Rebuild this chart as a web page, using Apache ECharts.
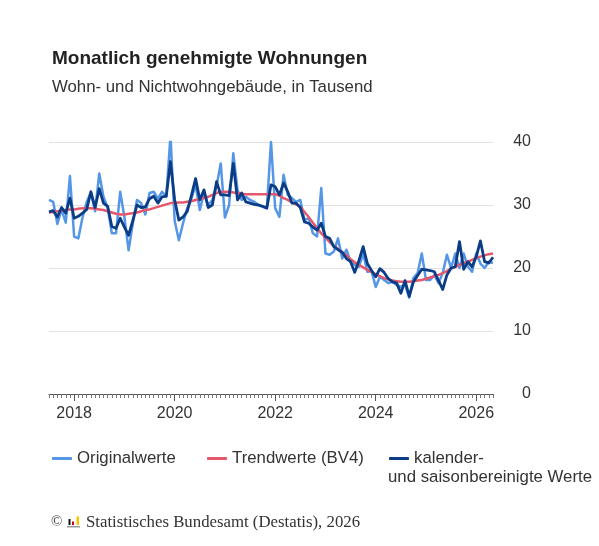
<!DOCTYPE html>
<html>
<head>
<meta charset="utf-8">
<script src="https://cdn.jsdelivr.net/npm/echarts@6/dist/echarts.min.js"></script>
<style>
  html, body { margin: 0; padding: 0; background: #fff; }
  #chart { width: 599px; height: 546px; }
</style>
</head>
<body>
<div id="chart"></div>
<script>
  // Monate Jul 2017 .. Mai 2026
  var months = []
  for (var y = 2017; y <= 2026; y++) {
    for (var m = 1; m <= 12; m++) {
      if (y === 2017 && m < 7) continue
      if (y === 2026 && m > 5) continue
      months.push(y + '-' + (m < 10 ? '0' + m : m))
    }
  }
  var yearLabels = ['2018', '2020', '2022', '2024', '2026']
  var yTicks = [0, 10, 20, 30, 40]

  // Originalwerte, in Tausend
  var originalwerte = [
    30.8, 30.5, 27.0, 29.3, 27.2, 34.6, 25.0, 24.7, 28.0, 30.5,
    32.0, 29.0, 35.0, 31.3, 29.6, 25.5, 25.5, 32.1, 28.1, 22.8,
    27.0, 30.8, 30.3, 28.5, 31.9, 32.1, 31.0, 32.1, 31.3, 41.0,
    27.5, 24.4, 27.1, 29.5, 31.0, 33.2, 29.2, 31.9, 30.0, 30.8,
    33.0, 36.6, 28.0, 30.0, 38.2, 32.4, 30.8, 31.3, 30.8, 30.5,
    30.0, 29.7, 29.5, 40.0, 29.5, 28.1, 34.8, 31.6, 31.1, 30.5,
    30.8, 27.6, 27.9, 25.5, 25.0, 32.7, 22.3, 22.1, 22.6, 24.7,
    21.5, 22.9, 21.0, 20.5, 20.2, 22.3, 19.4, 19.5, 17.0, 18.6,
    18.1, 17.6, 17.8, 17.3, 17.0, 17.3, 15.3, 18.4, 19.2, 22.3,
    18.1, 18.1, 18.9, 17.6, 19.2, 22.1, 20.0, 22.3, 20.0, 22.3,
    20.2, 19.4, 22.3, 20.7, 20.0, 21.0, 20.8
  ]
  // Trendwerte (BV4)
  var trendwerte = [
    28.8, 28.9, 29.0, 29.1, 29.2, 29.3, 29.3, 29.4, 29.5, 29.5,
    29.5, 29.4, 29.3, 29.2, 29.0, 28.8, 28.6, 28.5, 28.5, 28.6,
    28.7, 28.8, 29.0, 29.2, 29.3, 29.5, 29.7, 29.9, 30.1, 30.3,
    30.3, 30.4, 30.4, 30.5, 30.6, 30.8, 31.0, 31.1, 31.3, 31.6,
    31.9, 32.1, 32.1, 32.1, 32.0, 31.9, 31.8, 31.7, 31.7, 31.7,
    31.7, 31.7, 31.7, 31.7, 31.7, 31.5, 31.1, 30.8, 30.4, 30.1,
    29.7, 28.9, 28.1, 27.2, 26.3, 25.5, 24.8, 24.1, 23.5, 23.0,
    22.5, 22.0, 21.4, 20.9, 20.5, 20.1, 19.7, 19.4, 19.0, 18.7,
    18.4, 18.2, 18.0, 17.9, 17.8, 17.8, 17.8, 17.9, 18.0, 18.1,
    18.3, 18.5, 18.7, 18.9, 19.2, 19.5, 19.9, 20.2, 20.5, 20.8,
    21.0, 21.3, 21.6, 21.8, 22.0, 22.2, 22.3
  ]
  // kalender- und saisonbereinigte Werte
  var bereinigt = [
    28.9, 29.1, 28.1, 29.6, 28.7, 31.1, 27.9, 28.2, 28.7, 29.3,
    32.1, 29.6, 32.6, 30.3, 29.8, 26.6, 26.3, 27.9, 26.5, 25.2,
    27.5, 30.0, 29.6, 29.7, 31.0, 31.4, 30.3, 31.3, 31.4, 36.9,
    30.8, 27.6, 28.1, 29.0, 31.5, 34.2, 30.8, 32.4, 29.6, 30.0,
    33.7, 31.6, 31.6, 31.5, 36.6, 30.8, 31.9, 30.5, 30.3, 30.1,
    30.0, 29.8, 29.5, 33.2, 32.9, 31.6, 33.5, 32.1, 30.3, 30.3,
    29.6, 27.3, 27.1, 26.5, 26.0, 27.1, 25.0, 24.7, 23.4, 22.9,
    22.5, 21.5, 21.0, 19.3, 21.2, 23.4, 20.7, 19.6, 18.6, 19.9,
    19.3, 18.3, 17.8, 17.6, 16.0, 18.0, 15.5, 17.8, 18.8, 19.8,
    19.7, 19.6, 19.4, 18.0, 16.6, 18.9, 20.0, 20.2, 24.2, 19.8,
    21.0, 20.2, 21.8, 24.3, 21.0, 20.8, 21.7
  ]

  var colors = {
    original: '#5596e6',
    trend: '#e5576b',
    bereinigt: '#0b3d87'
  }
  var textColor = '#333'
  var font = 'Liberation Sans, Arial, sans-serif'

  var isYearTick = function (index, value) {
    return value.slice(5) === '01' && yearLabels.indexOf(value.slice(0, 4)) > -1
  }

  var legendBase = {
    top: 450,
    padding: 0,
    itemWidth: 20,
    itemHeight: 3,
    icon: 'roundRect',
    selectedMode: false,
    textStyle: { color: textColor, fontSize: 16.8, fontFamily: font }
  }

  var option = {
    animation: false,
    backgroundColor: '#fff',
    title: {
      text: 'Monatlich genehmigte Wohnungen',
      subtext: 'Wohn- und Nichtwohngebäude, in Tausend',
      left: 47,
      top: 44,
      itemGap: 11,
      textStyle: { color: '#222', fontSize: 19, fontWeight: 'bold', fontFamily: font },
      subtextStyle: { color: textColor, fontSize: 16.8, fontFamily: font }
    },
    legend: [
      Object.assign({}, legendBase, { left: 52, data: ['Originalwerte'] }),
      Object.assign({}, legendBase, { left: 207, data: ['Trendwerte (BV4)'] }),
      Object.assign({}, legendBase, {
        left: 389,
        data: ['kalender- und saisonbereinigte Werte'],
        formatter: function () { return 'kalender-' }
      })
    ],
    grid: { left: 49, right: 106, top: 142, bottom: 152 },
    xAxis: [
      {
        type: 'category',
        data: months,
        boundaryGap: false,
        axisLine: { lineStyle: { color: '#555', width: 1 } },
        axisTick: { interval: 0, length: 4, lineStyle: { color: '#777' } },
        axisLabel: { show: false },
        splitLine: { show: false }
      },
      {
        type: 'category',
        data: months,
        boundaryGap: false,
        position: 'bottom',
        axisLine: { show: false },
        axisTick: { interval: isYearTick, length: 7, lineStyle: { color: '#555' } },
        axisLabel: {
          interval: isYearTick,
          formatter: function (v) { return v.slice(0, 4) },
          color: textColor,
          fontSize: 16,
          fontFamily: font,
          margin: 12
        },
        splitLine: { show: false }
      }
    ],
    yAxis: {
      type: 'value',
      position: 'right',
      min: yTicks[0],
      max: yTicks[yTicks.length - 1],
      interval: 10,
      axisLine: { show: false },
      axisTick: { show: false },
      axisLabel: { align: 'right', margin: 38, color: textColor, fontSize: 16, fontFamily: font },
      splitLine: { lineStyle: { color: '#e2e2e2', width: 1 } }
    },
    series: [
      {
        name: 'Originalwerte',
        type: 'line',
        data: originalwerte,
        showSymbol: false,
        symbol: 'none',
        itemStyle: { color: colors.original },
        lineStyle: { color: colors.original, width: 2.5, join: 'round' }
      },
      {
        name: 'Trendwerte (BV4)',
        type: 'line',
        data: trendwerte,
        showSymbol: false,
        symbol: 'none',
        itemStyle: { color: colors.trend },
        lineStyle: { color: colors.trend, width: 2.5, join: 'round' }
      },
      {
        name: 'kalender- und saisonbereinigte Werte',
        type: 'line',
        data: bereinigt,
        showSymbol: false,
        symbol: 'none',
        itemStyle: { color: colors.bereinigt },
        lineStyle: { color: colors.bereinigt, width: 2.8, join: 'round' }
      }
    ],
    graphic: [
      // zweite Zeile der dritten Legende
      {
        type: 'text', left: 388, top: 469,
        style: { text: 'und saisonbereinigte Werte', fill: textColor, fontSize: 16.8, fontFamily: font }
      },
      // Quelle
      {
        type: 'text', left: 51, top: 515,
        style: { text: '©', fill: '#444', fontSize: 15, fontFamily: 'Liberation Serif, serif' }
      },
      { type: 'rect', shape: { x: 68.5, y: 519, width: 2, height: 6 }, style: { fill: '#111' } },
      { type: 'rect', shape: { x: 72, y: 521.5, width: 2, height: 3.5 }, style: { fill: '#d0021b' } },
      { type: 'rect', shape: { x: 76.5, y: 516.5, width: 2.5, height: 8.5 }, style: { fill: '#f5c400' } },
      { type: 'rect', shape: { x: 67, y: 526, width: 13, height: 1.5 }, style: { fill: '#999' } },
      {
        type: 'text', left: 86, top: 514,
        style: { text: 'Statistisches Bundesamt (Destatis), 2026', fill: textColor, fontSize: 16.8, fontFamily: 'Liberation Serif, serif' }
      }
    ]
  }

  var chart = echarts.init(document.getElementById('chart'))
  chart.setOption(option)
</script>
</body>
</html>
